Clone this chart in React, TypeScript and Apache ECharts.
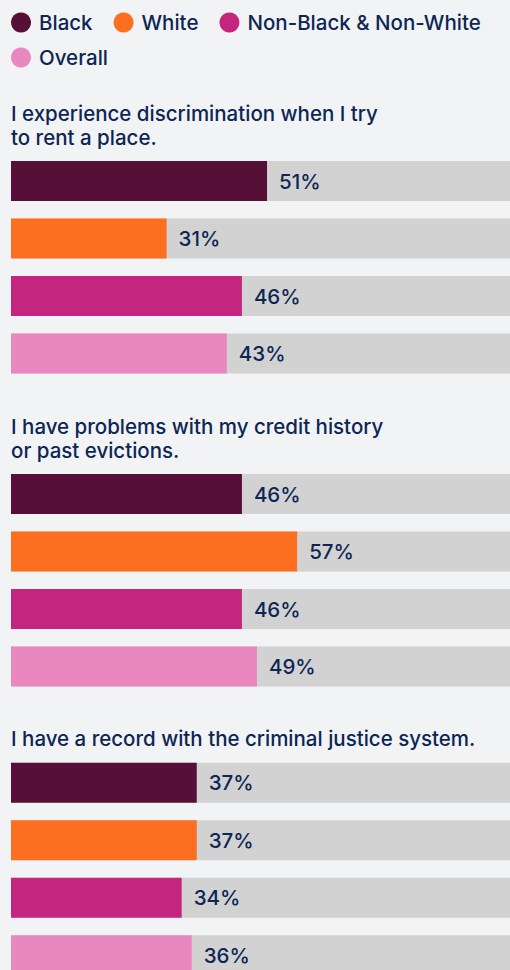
import React, { useEffect, useRef } from "react";
import * as echarts from "echarts";

const groups = ["Black", "White", "Non-Black & Non-White", "Overall"];
const groupColors = ["#560f36", "#fd6f20", "#c4267f", "#e988bf"];
const questions = [
  "I experience discrimination when I try\nto rent a place.",
  "I have problems with my credit history\nor past evictions.",
  "I have a record with the criminal justice system.",
];
// values per question, in group order
const discriminationValues = [51, 31, 46, 43];
const creditValues = [46, 57, 46, 49];
const recordValues = [37, 37, 34, 36];
const allValues = [discriminationValues, creditValues, recordValues];
const fullScale = [100, 100, 100, 100];

const FONT = "Inter, 'Liberation Sans', Arial, sans-serif";
const WEIGHT = 500;
const FS = 20.5;
const TEXT = "#0d2654";
const GRAY = "#d1d2d1";
const BG = "#f2f3f5";

const gridTops = [152.25, 465.25, 754];
const titleTops = [101.5, 414, 726.5];
const H = 970;

export default function App() {
  const ref = useRef<HTMLDivElement>(null);
  useEffect(() => {
    document.body.style.margin = "0";
    if (!ref.current) return;
    const chart = echarts.init(ref.current, undefined, { renderer: "svg" });

    const grids = gridTops.map((t) => ({
      left: 11,
      width: 502,
      top: t,
      height: 230,
      outerBoundsMode: "none",
      containLabel: false,
    }));
    const xAxes = gridTops.map((_, i) => ({
      type: "value",
      gridIndex: i,
      min: 0,
      max: 100,
      show: false,
    }));
    const yAxes = gridTops.map((_, i) => ({
      type: "category",
      gridIndex: i,
      data: groups,
      inverse: true,
      show: false,
    }));

    const series: any[] = [];
    allValues.forEach((vals, gi) => {
      series.push({
        type: "bar",
        name: "bg" + gi,
        xAxisIndex: gi,
        yAxisIndex: gi,
        data: fullScale,
        barWidth: 40,
        barGap: "-100%",
        silent: true,
        itemStyle: { color: GRAY },
      });
      groups.forEach((g, k) => {
        series.push({
          type: "bar",
          name: g,
          xAxisIndex: gi,
          yAxisIndex: gi,
          data: vals.map((v, j) => (j === k ? v : "-")),
          barWidth: 40,
          barGap: "-100%",
          itemStyle: { color: groupColors[k] },
          label: {
            show: true,
            position: "right",
            distance: 12,
            formatter: "{c}%",
            fontSize: FS,
            fontWeight: WEIGHT,
            color: TEXT,
            fontFamily: FONT,
          },
        });
      });
    });

    const legendCommon = {
      left: 11,
      orient: "horizontal",
      icon: "circle",
      itemWidth: 20,
      itemHeight: 20,
      itemGap: 21,
      padding: 0,
      selectedMode: false,
      textStyle: {
        fontSize: FS,
        fontWeight: WEIGHT,
        color: TEXT,
        fontFamily: FONT,
        padding: [0, 0, 0, 3],
      },
    };

    chart.setOption({
      animation: false,
      backgroundColor: BG,
      title: questions.map((q, i) => ({
        text: q,
        left: 11,
        top: titleTops[i],
        padding: 0,
        textStyle: {
          fontSize: FS,
          lineHeight: 24,
          fontWeight: WEIGHT,
          color: TEXT,
          fontFamily: FONT,
        },
      })),
      legend: [
        { ...legendCommon, top: 12, data: groups.slice(0, 3) },
        { ...legendCommon, top: 47, data: groups.slice(3) },
      ],
      grid: grids,
      xAxis: xAxes,
      yAxis: yAxes,
      series,
    });
    return () => chart.dispose();
  }, []);
  return <div ref={ref} style={{ width: 510, height: H }} />;
}
